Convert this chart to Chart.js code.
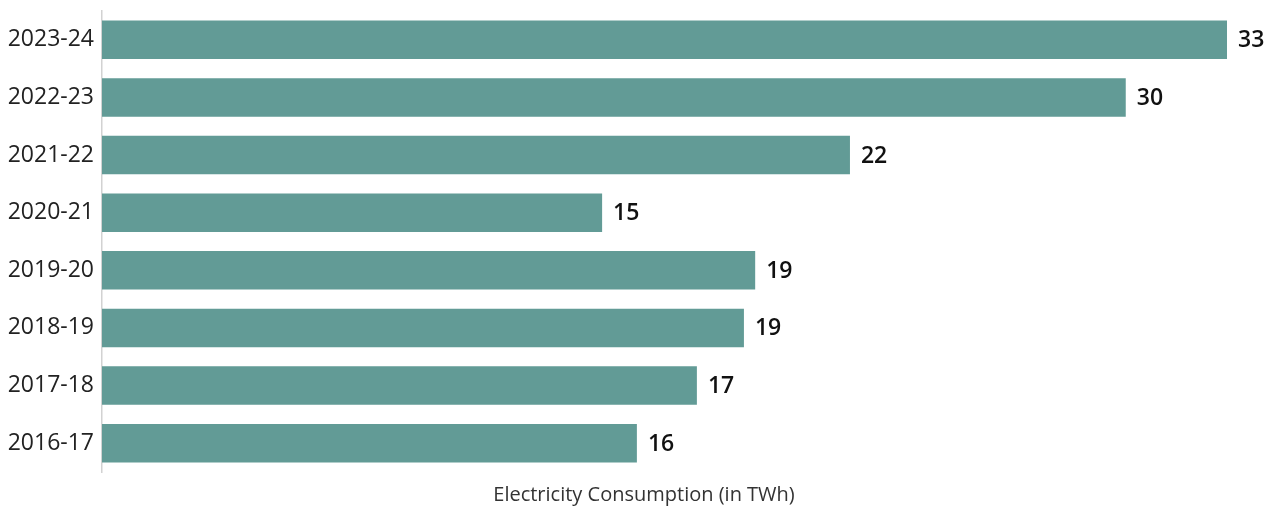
<!DOCTYPE html>
<html>
<head>
<meta charset="utf-8">
<script src="https://cdn.jsdelivr.net/npm/chart.js@4/dist/chart.umd.min.js"></script>
<style>
  html, body { margin: 0; padding: 0; background: #ffffff; }
  #wrap { width: 1276px; height: 509px; position: relative; }
</style>
</head>
<body>
<div id="wrap"><canvas id="chart"></canvas></div>
<script>
// Financial years, top to bottom
const years = ['2023-24', '2022-23', '2021-22', '2020-21', '2019-20', '2018-19', '2017-18', '2016-17'];
// Electricity consumption, TWh
const consumption = [33, 30.03, 21.94, 14.67, 19.16, 18.83, 17.45, 15.69];
const axisTitle = 'Electricity Consumption (in TWh)';

const FONT = "'Open Sans', 'Noto Sans', sans-serif";

// Value labels past the end of each bar, plus the axis caption below the plot
const annotations = {
  id: 'annotations',
  afterDatasetsDraw(chart) {
    const ctx = chart.ctx;
    const meta = chart.getDatasetMeta(0);
    ctx.save();
    ctx.font = '600 23px ' + FONT;
    ctx.fillStyle = '#111111';
    ctx.textAlign = 'left';
    ctx.textBaseline = 'middle';
    meta.data.forEach((bar, i) => {
      const v = chart.data.datasets[0].data[i];
      ctx.fillText(String(Math.round(v)), bar.x + 11, bar.y + 1);
    });

    ctx.font = '400 20px ' + FONT;
    ctx.fillStyle = '#333333';
    ctx.textAlign = 'center';
    ctx.fillText(axisTitle, 644, chart.chartArea.bottom + 23);
    ctx.restore();
  }
};

new Chart(document.getElementById('chart'), {
  type: 'bar',
  data: {
    labels: years,
    datasets: [{
      data: consumption,
      backgroundColor: '#629b96',
      borderWidth: 0,
      categoryPercentage: 1,
      barPercentage: 0.67
    }]
  },
  options: {
    indexAxis: 'y',
    responsive: true,
    maintainAspectRatio: false,
    animation: false,
    layout: { padding: { top: 11, right: 49, bottom: 37, left: 0 } },
    plugins: {
      legend: { display: false },
      tooltip: { enabled: false },
      title: { display: false }
    },
    scales: {
      x: {
        display: false,
        min: 0,
        max: 33
      },
      y: {
        grid: { display: false, drawTicks: false },
        border: { display: true, color: '#d2d2d2', width: 1.5 },
        ticks: {
          color: '#222222',
          font: { family: FONT, size: 23, weight: '400' },
          padding: 8
        },
        afterFit(scale) {
          scale.width = 102;
          scale.paddingTop = 0;
          scale.paddingBottom = 0;
        }
      }
    }
  },
  plugins: [annotations]
});
</script>
</body>
</html>
